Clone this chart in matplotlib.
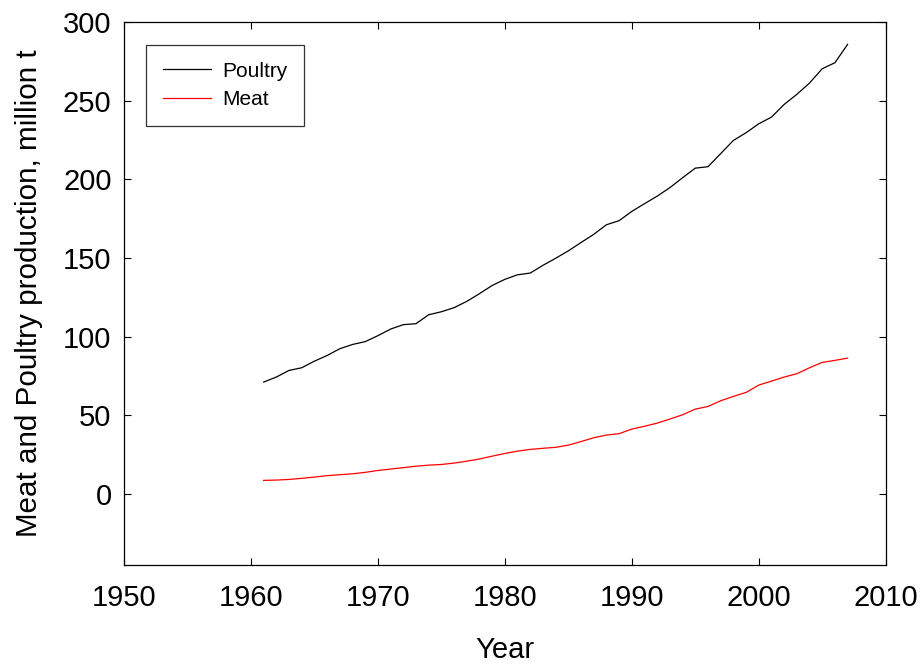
import matplotlib
matplotlib.use("Agg")
import matplotlib.pyplot as plt

years = list(range(1961, 2008))
poultry = [71.1, 74.3, 78.5, 80.2, 84.4, 88.0, 92.3, 95.0, 96.8, 100.6,
           104.8, 107.6, 108.2, 113.9, 115.8, 118.4, 122.4, 127.3, 132.5, 136.4,
           139.3, 140.4, 145.3, 149.8, 154.5, 159.8, 165.0, 171.1, 173.7, 179.6,
           184.5, 189.3, 194.7, 201.0, 207.1, 208.0, 216.3, 224.7, 229.6, 235.3,
           239.5, 247.6, 254.0, 261.2, 270.3, 274.1, 285.8]
meat = [8.6, 8.8, 9.2, 9.9, 10.7, 11.6, 12.2, 12.8, 13.7, 14.9,
        15.8, 16.7, 17.6, 18.3, 18.7, 19.6, 20.8, 22.2, 24.0, 25.7,
        27.2, 28.3, 29.0, 29.6, 31.0, 33.3, 35.7, 37.4, 38.3, 41.2,
        43.0, 45.0, 47.6, 50.3, 53.9, 55.6, 59.2, 62.0, 64.5, 69.2,
        71.7, 74.3, 76.4, 80.2, 83.6, 84.9, 86.3]

xticks = [1950, 1960, 1970, 1980, 1990, 2000, 2010]
yticks = [0, 50, 100, 150, 200, 250, 300]

plt.rcParams['font.family'] = ['Liberation Sans', 'DejaVu Sans']

fig = plt.figure(figsize=(9.21, 6.64), dpi=100)
ax = fig.add_axes([124/921, 1 - 564.7/664, (885.7-124)/921, (564.7-22)/664])

ax.plot(years, poultry, color='black', lw=0.9, label='Poultry')
ax.plot(years, meat, color='red', lw=0.9, label='Meat')

ax.set_xlim(1950, 2010)
ax.set_ylim(-45, 300)
ax.set_xticks(xticks)
ax.set_yticks(yticks)
ax.tick_params(direction='in', length=5, width=0.8, top=True, right=True,
               labelsize=21)
ax.tick_params(axis='x', pad=14)
ax.tick_params(axis='y', pad=9)
for s in ax.spines.values():
    s.set_linewidth(0.9)

ax.set_xlabel('Year', fontsize=21, labelpad=17)
ax.set_ylabel('Meat and Poultry production, million t', fontsize=21.3)
ax.yaxis.set_label_coords(-0.106, 0.5)

leg = ax.legend(loc='upper left', bbox_to_anchor=(0.0289, 0.9576),
                borderaxespad=0, fontsize=15, frameon=True, fancybox=False,
                edgecolor='black', handlelength=2.3, handletextpad=0.55,
                labelspacing=0.45, borderpad=0.8)
leg.get_frame().set_linewidth(0.9)

fig.savefig('out.png', dpi=100)
